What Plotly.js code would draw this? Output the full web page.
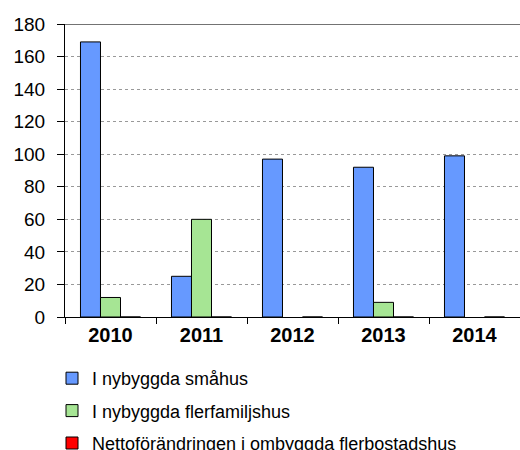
<!DOCTYPE html>
<html>
<head>
<meta charset="utf-8">
<script src="https://cdn.plot.ly/plotly-3.0.1.min.js"></script>
<style>html,body{margin:0;padding:0;background:#fff;}#chart{width:520px;height:450px;}</style>
</head>
<body>
<div id="chart"></div>
<script>
var years = ['2010', '2011', '2012', '2013', '2014'];
var smahus = [169, 25, 97, 92, 99];
var flerfamiljshus = [12, 60, null, 9, null];
var ombyggda = [0, 0, 0, 0, 0];
var seriesNames = ['I nybyggda småhus', 'I nybyggda flerfamiljshus', 'Nettoförändringen i ombyggda flerbostadshus'];
var seriesColors = ['#6699FF', '#A6E594', '#FF0000'];
var seriesValues = [smahus, flerfamiljshus, ombyggda];
var yTicks = [0, 20, 40, 60, 80, 100, 120, 140, 160, 180];

var traces = seriesValues.map(function (vals, i) {
  return {
    type: 'bar',
    x: years,
    y: vals,
    name: seriesNames[i],
    legendgroup: 'g' + i,
    marker: { color: seriesColors[i], line: { color: '#000', width: 1 } },
    hoverinfo: 'none'
  };
});

var layout = {
  width: 520, height: 450,
  margin: { l: 65, r: 0, t: 24, b: 133, autoexpand: false },
  paper_bgcolor: '#fff', plot_bgcolor: '#fff',
  font: { family: 'Liberation Sans, Arial, sans-serif', color: '#000' },
  barmode: 'group', bargap: 0.34, bargroupgap: 0,
  showlegend: true,
  xaxis: {
    type: 'category', automargin: false, tickangle: 0,
    tickson: 'boundaries', ticks: 'outside', ticklen: 6, tickcolor: '#000',
    showline: true, linecolor: '#000', linewidth: 1,
    showgrid: false, zeroline: false,
    tickfont: { size: 20, family: 'Liberation Sans, Arial, sans-serif', weight: 'bold' }
  },
  yaxis: {
    range: [0, 180], tickvals: yTicks, ticktext: yTicks.map(String), automargin: false,
    ticks: 'outside', ticklen: 7, tickcolor: '#000',
    showline: true, linecolor: '#000', linewidth: 1,
    showgrid: true, gridcolor: '#999', griddash: 'dot', gridwidth: 1,
    zeroline: false, ticklabelstandoff: 8,
    tickfont: { size: 19 }
  },
  shapes: [{ type: 'line', xref: 'paper', yref: 'y', x0: 0, x1: 1, y0: 180, y1: 180, line: { color: '#444', width: 1.5 } }],
  legend: {
    orientation: 'v', xref: 'container', yref: 'container',
    x: 0.1, y: 0.2, xanchor: 'left', yanchor: 'top',
    font: { size: 18 }, traceorder: 'grouped', tracegroupgap: 6,
    bgcolor: 'rgba(0,0,0,0)'
  }
};

Plotly.newPlot('chart', traces, layout, { displayModeBar: false, staticPlot: true });
</script>
</body>
</html>
